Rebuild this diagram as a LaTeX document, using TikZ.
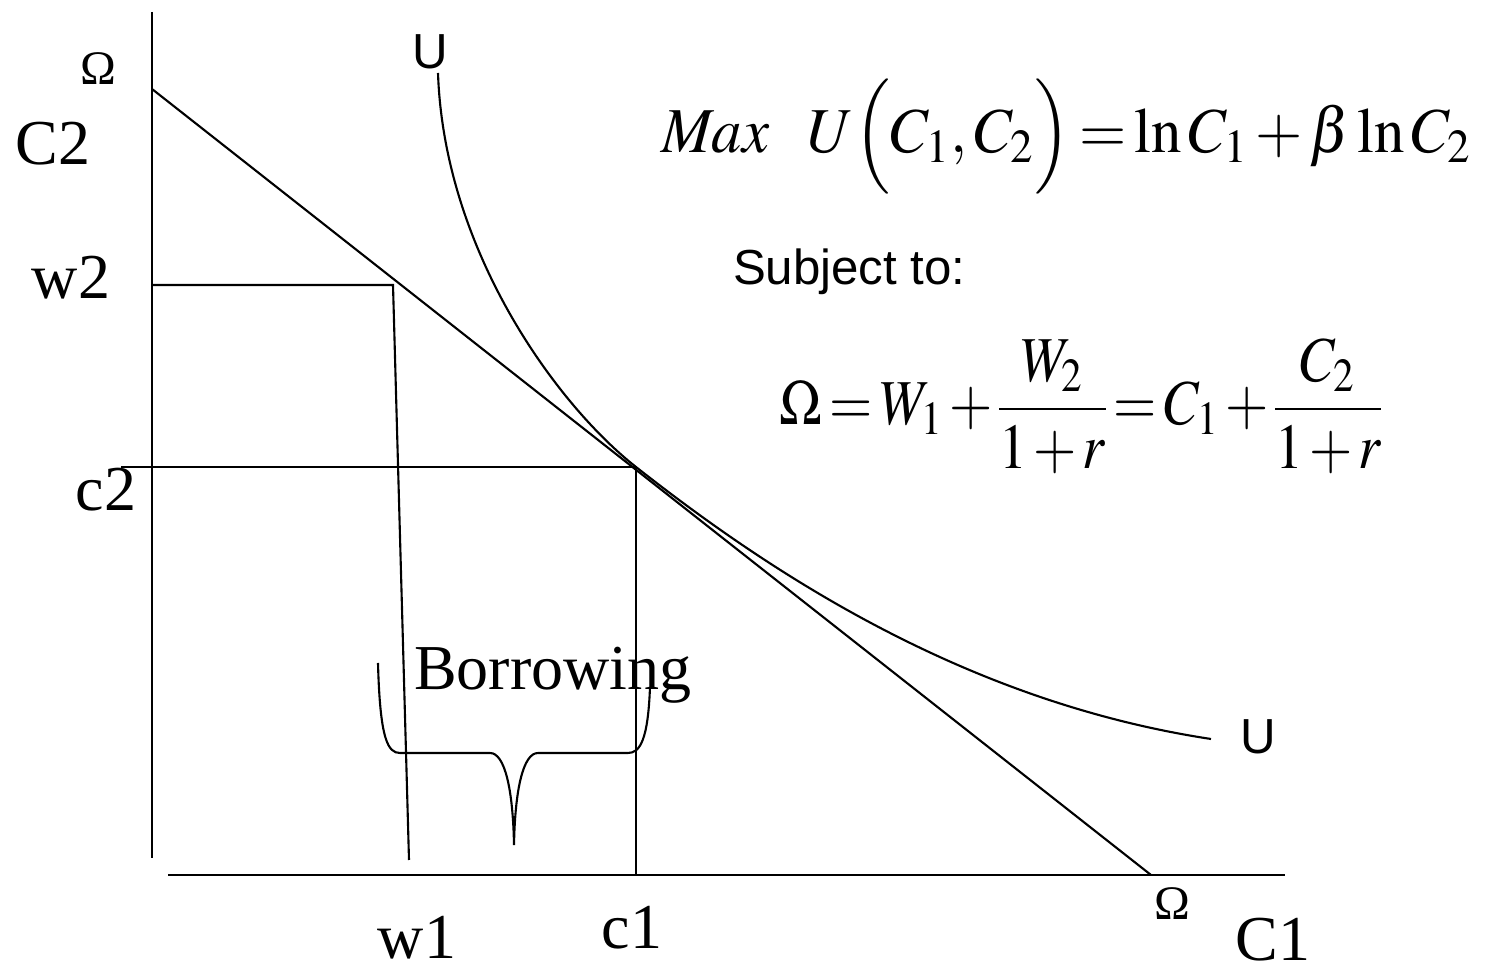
\documentclass[tikz,border=0pt]{standalone}
\usepackage{graphicx}
\usepackage{mathptmx}
\usepackage[no-math]{fontspec}
\setmainfont{Liberation Serif}
\newfontfamily\arialfont{Liberation Sans}
\newcommand{\tightmath}{\thickmuskip=2.5mu\relax\medmuskip=2mu\relax\nulldelimiterspace=0pt\relax}
\begin{document}
\begin{tikzpicture}[x=0.01cm,y=-0.01cm,line width=0.6pt,
  lbl/.style={font=\fontsize{18.2}{20}\selectfont,inner sep=0pt},
  omg/.style={font=\fontsize{13.7}{15}\selectfont,inner sep=0pt},
  sanslbl/.style={font=\arialfont\fontsize{14}{16}\selectfont,inner sep=0pt},
  eq/.style={font=\fontsize{18.2}{20}\selectfont,inner sep=0pt,anchor=base west}]
  \useasboundingbox (0,0) rectangle (1494,971);

  % axes
  \coordinate (ytop) at (152,12);
  \coordinate (ybot) at (152,858);
  \coordinate (xleft) at (168,875);
  \coordinate (xright) at (1285,875);
  \draw (ytop) -- (ybot);
  \draw (xleft) -- (xright);

  % budget line and endowment point
  \coordinate (om2y) at (152,89);
  \coordinate (om2x) at (1151,875);
  \draw (om2y) -- (om2x);
  \coordinate (w2a) at (152,285);
  \coordinate (w2b) at (393,285);
  \coordinate (w1b) at (409,860);
  \draw (w2a) -- (w2b) -- (w1b);

  % optimum
  \coordinate (opt) at (636,467);
  \coordinate (c2a) at (121,467);
  \coordinate (c1b) at (636,875);
  \draw (c2a) -- (opt) -- (c1b);

  % indifference curve
  \coordinate (utop) at (438,73);
  \coordinate (uend) at (1211,739);
  \draw (utop) .. controls (444,250) and (556,404) .. (opt)
    .. controls (766,569) and (961,701) .. (uend);

  % brace
  \draw (378,663) .. controls (380,740) and (388,753) .. (400,753) -- (490,753)
    .. controls (505,753) and (513,790) .. (514,845)
    .. controls (515,790) and (523,753) .. (538,753) -- (628,753)
    .. controls (640,753) and (648,740) .. (650,687);

  % labels
  \node[omg] (om1) at (98,69) {Ω};
  \node[lbl] (C2lab) at (53,144) {C2};
  \node[lbl] (w2lab) at (71,278) {w2};
  \node[lbl] (c2lab) at (106,490) {c2};
  \node[sanslbl] (u1) at (430,52) {U};
  \node[sanslbl] (u2) at (1258,737) {U};
  \node[omg] (om2) at (1172,904) {Ω};
  \node[lbl] (w1lab) at (417,938) {w1};
  \node[lbl] (c1lab) at (632,928) {c1};
  \node[lbl] (C1lab) at (1273,940) {C1};
  \node[lbl,anchor=base west] (borrow) at (413,690) {Borrowing};

  % the problem
  \node[eq] (maxeq) at (660,153)
    {\resizebox{8.1cm}{\height}{\tightmath$\mathit{Max}\enspace\; U\Bigl(C_1,C_2\Bigr)=\ln C_1+\beta\ln C_2$}};
  \node[sanslbl,anchor=base west] (subj) at (732,285) {Subject to:};
  \node[eq] (budeq) at (778,425)
    {\resizebox{6.02cm}{\height}{\tightmath$\displaystyle \Omega=W_1+\frac{W_2}{1+r}=C_1+\frac{C_2}{1+r}$}};
\end{tikzpicture}
\end{document}
